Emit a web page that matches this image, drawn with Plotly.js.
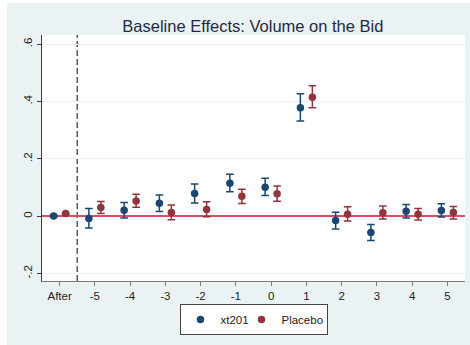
<!DOCTYPE html>
<html>
<head>
<meta charset="utf-8">
<script src="https://cdn.plot.ly/plotly-3.0.1.min.js"></script>
<style>html,body{margin:0;padding:0;background:#fff;}#chart{width:470px;height:345px;}</style>
</head>
<body>
<div id="chart"></div>
<script>
// ---- data ----
var categories = ['After', '-5', '-4', '-3', '-2', '-1', '0', '1', '2', '3', '4', '5'];

var xt201Est = [0.001, -0.008, 0.021, 0.045, 0.079, 0.115, 0.101, 0.378, -0.015, -0.057, 0.017, 0.020];
var xt201Lo  = [-0.003, -0.041, -0.006, 0.016, 0.046, 0.085, 0.072, 0.332, -0.045, -0.085, -0.006, -0.003];
var xt201Hi  = [0.005, 0.027, 0.048, 0.074, 0.112, 0.146, 0.132, 0.427, 0.014, -0.029, 0.041, 0.043];

var placeboEst = [0.009, 0.030, 0.053, 0.013, 0.023, 0.070, 0.078, 0.415, 0.007, 0.012, 0.007, 0.013];
var placeboLo  = [0.006, 0.009, 0.031, -0.012, -0.002, 0.044, 0.052, 0.378, -0.017, -0.010, -0.013, -0.010];
var placeboHi  = [0.012, 0.051, 0.077, 0.039, 0.050, 0.094, 0.105, 0.455, 0.033, 0.036, 0.027, 0.034];

var yTickVals = [-0.2, 0, 0.2, 0.4, 0.6];
var yTickText = ['-.2', '0', '.2', '.4', '.6'];

// ---- build ----
var basePos = categories.map(function (c, i) { return i - 6; });
var offset = 0.17;
function diff(a, b) { return a.map(function (v, i) { return v - b[i]; }); }

var blue = '#1a476f', red = '#90353b';
var FONT = 'Liberation Sans, Arial, sans-serif';

var traces = [
  {
    type: 'scatter', mode: 'markers', name: 'xt201',
    x: basePos.map(function (p) { return p - offset; }),
    y: xt201Est,
    marker: {color: blue, size: 7.5},
    error_y: {type: 'data', symmetric: false, array: diff(xt201Hi, xt201Est), arrayminus: diff(xt201Est, xt201Lo),
              color: blue, thickness: 1.5, width: 3.8},
    legendwidth: 16,
    hoverinfo: 'x+y'
  },
  {
    type: 'scatter', mode: 'markers', name: 'Placebo',
    x: basePos.map(function (p) { return p + offset; }),
    y: placeboEst,
    marker: {color: red, size: 7.5},
    error_y: {type: 'data', symmetric: false, array: diff(placeboHi, placeboEst), arrayminus: diff(placeboEst, placeboLo),
              color: red, thickness: 1.5, width: 3.8},
    legendwidth: 40,
    hoverinfo: 'x+y'
  }
];

var layout = {
  width: 470, height: 345,
  margin: {l: 42, r: 5, t: 35, b: 64, pad: 0},
  paper_bgcolor: '#eaf2f3',
  plot_bgcolor: '#ffffff',
  font: {family: FONT, size: 11.5, color: '#222222'},
  title: {
    text: 'Baseline Effects: Volume on the Bid',
    font: {family: FONT, size: 16.5, color: '#1e2a45'},
    x: 0.538, xanchor: 'center', y: 0.925, yanchor: 'middle'
  },
  xaxis: {
    range: [-6.5, 5.5],
    tickmode: 'array', tickvals: basePos, ticktext: categories,
    showgrid: false, zeroline: false,
    showline: true, linecolor: '#7a7a7a', linewidth: 1,
    ticks: 'outside', ticklen: 4, tickcolor: '#7a7a7a', tickwidth: 1,
    tickfont: {family: FONT, size: 11.5, color: '#222222'},
    fixedrange: true
  },
  yaxis: {
    range: [-0.226, 0.632],
    tickmode: 'array', tickvals: yTickVals, ticktext: yTickText,
    tickangle: -90,
    showgrid: true, gridcolor: '#eaf2f3', gridwidth: 1,
    zeroline: true, zerolinecolor: '#dc4d66', zerolinewidth: 1.5,
    showline: true, linecolor: '#3c3c3c', linewidth: 1,
    ticks: 'outside', ticklen: 4, tickcolor: '#3c3c3c', tickwidth: 1,
    tickfont: {family: FONT, size: 11.5, color: '#222222'},
    fixedrange: true
  },
  shapes: [
    {type: 'line', xref: 'x', yref: 'paper', x0: -5.5, x1: -5.5, y0: 0, y1: 1,
     line: {color: '#5a5a5a', width: 1.5, dash: '6px,3px'}, layer: 'below'},
    // white page margin left and top of the graph region
    {type: 'rect', xref: 'paper', yref: 'paper', x0: -0.11, x1: -0.0827, y0: -0.3, y1: 1.2,
     fillcolor: '#ffffff', line: {width: 0}},
    {type: 'rect', xref: 'paper', yref: 'paper', x0: -0.11, x1: 1.05, y0: 1.1302, y1: 1.2,
     fillcolor: '#ffffff', line: {width: 0}}
  ],
  legend: {
    orientation: 'h', x: 0.5, xanchor: 'center', y: -0.094, yanchor: 'top',
    bgcolor: '#ffffff', bordercolor: '#444444', borderwidth: 1,
    font: {family: FONT, size: 11.5, color: '#222222'},
    itemwidth: 30, tracegroupgap: 0
  },
  showlegend: true
};

Plotly.newPlot('chart', traces, layout, {displayModeBar: false, staticPlot: true});
</script>
</body>
</html>
